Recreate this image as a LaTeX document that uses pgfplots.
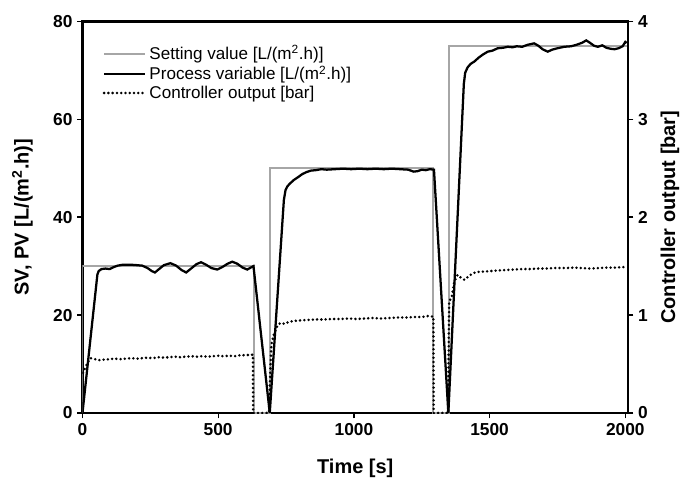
\documentclass[border=0pt]{standalone}
\usepackage{pgfplots}
\pgfplotsset{compat=1.18}
\usepackage{fontspec}
\setmainfont{Liberation Sans}
\definecolor{svgray}{RGB}{166,166,166}

\begin{document}
\begin{tikzpicture}
\pgfplotsset{
  common/.style={
    scale only axis, width=409.5pt, height=294pt,
    at={(0,0)}, anchor=south west,
    xmin=0, xmax=2010,
    tick align=outside,
    major tick length=4pt,
    every tick/.style={black, line width=1pt},
    axis line style={line width=1.8pt},
    /pgf/number format/assume math mode=true,
    /pgf/number format/1000 sep={},
    ticklabel style={font=\fontsize{13}{15}\selectfont\bfseries},
    label style={font=\fontsize{15}{17}\selectfont\bfseries},
  },
  co/.style={black, line width=2.1pt, line cap=round, dash pattern=on 0pt off 3.2pt},
}
\begin{axis}[
  common,
  ymin=0, ymax=80,
  xtick={0,500,...,2000}, ytick={0,20,...,80},
  xtick pos=bottom, ytick pos=left,
  xlabel={Time [s]},
  ylabel={SV, PV [L/(m\textsuperscript{2}.h)]},
  xlabel style={at={(axis description cs:0.5,-0.14)}, anchor=center},
  ylabel style={at={(axis description cs:-0.11,0.5)}, anchor=center},
  legend style={draw=none, fill=none, at={(axis description cs:0,1)}, anchor=north west,
    xshift=12pt, yshift=-14pt, font=\fontsize{12.8}{15}\selectfont, row sep=-1pt},
  legend cell align=left,
  legend image code/.code={\draw[#1] (0pt,0pt) -- (31pt,0pt);},
]
\addplot[svgray, line width=1.5pt] coordinates {
(0,0)(0,30)(632,30)(632,0)(690,0)(690,50)(1292,50)(1292,0)(1350,0)(1350,75)(2005,75)
};
\addlegendentry{Setting value [L/(m\textsuperscript{2}.h)]}
\addplot[black, line width=1.7pt] coordinates {
(0,0)(55,28.3)(60,29.0)(70,29.4)(85,29.5)(100,29.4)(115,29.8)(130,30.1)(150,30.3)(175,30.3)
(200,30.2)(220,30.1)(240,29.6)(255,29.0)(267,28.7)(280,29.3)(300,30.2)(324,30.6)(345,30.1)
(365,29.2)(382,28.7)(400,29.5)(420,30.4)(437,30.8)(455,30.3)(475,29.6)(497,29.3)(515,29.8)
(535,30.5)(552,30.9)(570,30.5)(590,29.7)(607,29.3)(620,29.7)(630,30.0)
(690,0)(742,43.5)(748,45.5)(755,46.3)(765,46.9)(779,47.6)(795,48.2)(810,48.8)(825,49.2)
(841,49.5)(860,49.6)(880,49.8)(900,49.7)(930,49.8)(960,49.9)(990,49.8)(1020,49.9)(1050,49.8)
(1080,49.9)(1110,49.8)(1140,49.9)(1170,49.8)(1200,49.7)(1220,49.3)(1235,49.4)(1250,49.7)
(1265,49.6)(1280,49.8)(1295,49.7)
(1348,0)(1405,67.2)(1410,69.5)(1419,70.6)(1430,71.3)(1444,71.8)(1460,72.6)(1475,73.2)
(1493,73.8)(1510,74.0)(1530,74.5)(1550,74.6)(1567,74.8)(1585,74.7)(1600,74.9)(1620,74.8)
(1640,75.2)(1664,75.5)(1680,75.0)(1695,74.3)(1714,73.8)(1730,74.2)(1750,74.5)(1775,74.8)
(1800,74.9)(1820,75.2)(1840,75.6)(1856,76.1)(1870,75.6)(1885,75.0)(1899,74.8)(1915,75.1)
(1930,74.6)(1945,74.4)(1960,74.3)(1975,74.5)(1990,74.9)(2000,75.8)(2005,75.6)
};
\addlegendentry{Process variable [L/(m\textsuperscript{2}.h)]}
\addlegendimage{co}
\addlegendentry{Controller output [bar]}
\end{axis}

\begin{axis}[
  common,
  ymin=0, ymax=4,
  ytick={0,1,2,3,4},
  hide x axis,
  axis y line*=right,
  ylabel={Controller output [bar]},
  ylabel style={at={(axis description cs:1.077,0.5)}, anchor=center, rotate=0},
]
\addplot[co] coordinates {
(2,0.41)(10,0.46)(20,0.52)(30,0.56)(45,0.55)(60,0.54)(80,0.545)(100,0.55)(120,0.555)
(140,0.55)(160,0.555)(180,0.56)(200,0.555)(220,0.56)(240,0.565)(260,0.56)(280,0.57)
(300,0.565)(320,0.57)(340,0.575)(360,0.57)(380,0.575)(400,0.58)(420,0.575)(440,0.58)
(460,0.575)(480,0.58)(500,0.585)(520,0.58)(540,0.585)(560,0.58)(580,0.59)(600,0.59)
(620,0.595)(628,0.595)(629,0)(687,0)(693,0.5)(696,0.70)(705,0.80)(712,0.85)(720,0.90)
(730,0.92)(745,0.91)(760,0.93)(780,0.94)(800,0.945)(830,0.95)(860,0.955)(890,0.955)
(920,0.96)(950,0.96)(980,0.965)(1010,0.96)(1040,0.965)(1070,0.97)(1100,0.965)(1130,0.97)
(1160,0.975)(1190,0.975)(1220,0.98)(1250,0.98)(1270,0.99)(1293,0.985)(1294,0)
(1347,0)(1349,0.6)(1351,1.14)(1360,1.18)(1370,1.34)(1382,1.41)(1395,1.38)(1407,1.36)
(1420,1.39)(1440,1.43)(1456,1.44)(1480,1.445)(1505,1.45)(1530,1.455)(1560,1.46)
(1590,1.465)(1620,1.47)(1650,1.47)(1680,1.475)(1710,1.475)(1740,1.48)(1775,1.48)
(1810,1.485)(1840,1.48)(1870,1.475)(1900,1.48)(1930,1.485)(1960,1.485)(1990,1.49)(2005,1.49)
};
\end{axis}
\pgfresetboundingbox
\path[use as bounding box] (-61.9pt,-53pt) rectangle (453pt,310pt);
\end{tikzpicture}
\end{document}
